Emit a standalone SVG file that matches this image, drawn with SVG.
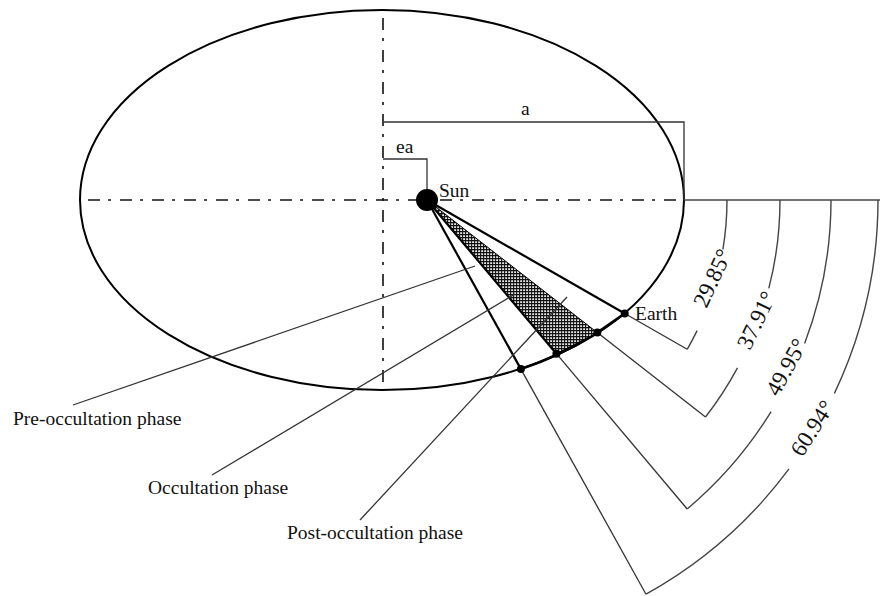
<svg xmlns="http://www.w3.org/2000/svg" width="880" height="596" viewBox="0 0 880 596" font-family="'Liberation Serif', 'DejaVu Serif', serif">
<style>
text{font-family:'Liberation Serif','DejaVu Serif',serif;fill:#111}
.lbl{font-size:19.5px}
.ang{font-size:23px}
.axis{fill:none;stroke:#111;stroke-width:1.6;stroke-dasharray:12 8 3 9}
.thick{stroke:#000;stroke-width:2.2;fill:none}
.thin{stroke:#333;stroke-width:1.3;fill:none}
.arc{stroke:#444;stroke-width:1.4;fill:none}
.dot{fill:#000}
</style>
<defs>
<pattern id="hatch" width="3" height="3" patternUnits="userSpaceOnUse">
<rect width="3" height="3" fill="#e6e6e6"/>
<path d="M0 0.6H3M0.6 0V3" stroke="#111" stroke-width="1.1"/>
</pattern>
</defs>
<g id="orbit">
<ellipse cx="382" cy="200" rx="302" ry="190" fill="none" stroke="#000" stroke-width="2"/>
<path d="M520.9 369.1 Q560 356 597.3 332.6 L624.7 313.5" fill="none" stroke="#000" stroke-width="2.6"/>
</g>
<g id="axes">
<line class="axis" x1="88" y1="200" x2="684" y2="200"/>
<line class="axis" x1="383" y1="18" x2="383" y2="383"/>
</g>
<g id="dimensions">
<path class="thin" d="M383 122H684V200"/>
<path class="thin" d="M383 159H427V190"/>
<text class="lbl" x="521" y="115">a</text>
<text class="lbl" x="396" y="153">ea</text>
</g>
<g id="occultation-zone">
<polygon points="427,200 556.4,353.7 597.3,332.6" fill="url(#hatch)" stroke="#000" stroke-width="1"/>
</g>
<g id="connectors">
<line class="thick" x1="427" y1="200" x2="624.7" y2="313.5"/>
<line class="thick" x1="427" y1="200" x2="556.4" y2="353.7"/>
<line class="thick" x1="427" y1="200" x2="520.9" y2="369.1"/>
<line class="thin" x1="624.7" y1="313.5" x2="687.2" y2="349.3"/>
<line class="thin" x1="597.3" y1="332.6" x2="705.5" y2="417.0"/>
<line class="thin" x1="556.4" y1="353.7" x2="687.2" y2="509.0"/>
<line class="thin" x1="520.9" y1="369.1" x2="646.0" y2="594.2"/>
<line class="thin" x1="73" y1="405" x2="475" y2="266"/>
<line class="thin" x1="212" y1="475" x2="515" y2="294"/>
<line class="thin" x1="360" y1="520" x2="567" y2="297"/>
</g>
<g id="angles">
<line class="arc" x1="684" y1="200" x2="880" y2="200"/>
<path class="arc" d="M727 200A300 300 0 0 1 722.9 249.5M697.1 330.6A300 300 0 0 1 687.2 349.3"/>
<path class="arc" d="M780 200A353 353 0 0 1 768.8 288.4M737.5 367.9A353 353 0 0 1 705.5 417.0"/>
<path class="arc" d="M831 200A404 404 0 0 1 804.6 343.5M771.1 411.7A404 404 0 0 1 687.2 509.0"/>
<path class="arc" d="M878 200A451 451 0 0 1 834.4 393.4M789.0 468.9A451 451 0 0 1 646.0 594.2"/>
<text class="ang" text-anchor="middle" dy="0.35em" transform="translate(712 278) rotate(-65)">29.85°</text>
<text class="ang" text-anchor="middle" dy="0.35em" transform="translate(756 320) rotate(-64)">37.91°</text>
<text class="ang" text-anchor="middle" dy="0.35em" transform="translate(786 367) rotate(-61)">49.95°</text>
<text class="ang" text-anchor="middle" dy="0.35em" transform="translate(812 428) rotate(-57)">60.94°</text>
</g>
<g id="sun">
<circle cx="427" cy="200" r="11" fill="#000"/>
<text class="lbl" x="439" y="197">Sun</text>
</g>
<g id="earth">
<circle class="dot" cx="624.7" cy="313.5" r="4"/>
<text class="lbl" x="635" y="320">Earth</text>
</g>
<g id="p2"><circle class="dot" cx="597.3" cy="332.6" r="4"/></g>
<g id="p3"><circle class="dot" cx="556.4" cy="353.7" r="4"/></g>
<g id="p4"><circle class="dot" cx="520.9" cy="369.1" r="4"/></g>
<g id="pre-occultation"><text class="lbl" x="13" y="425">Pre-occultation phase</text></g>
<g id="occultation"><text class="lbl" x="148" y="494">Occultation phase</text></g>
<g id="post-occultation"><text class="lbl" x="287" y="539">Post-occultation phase</text></g>
</svg>
